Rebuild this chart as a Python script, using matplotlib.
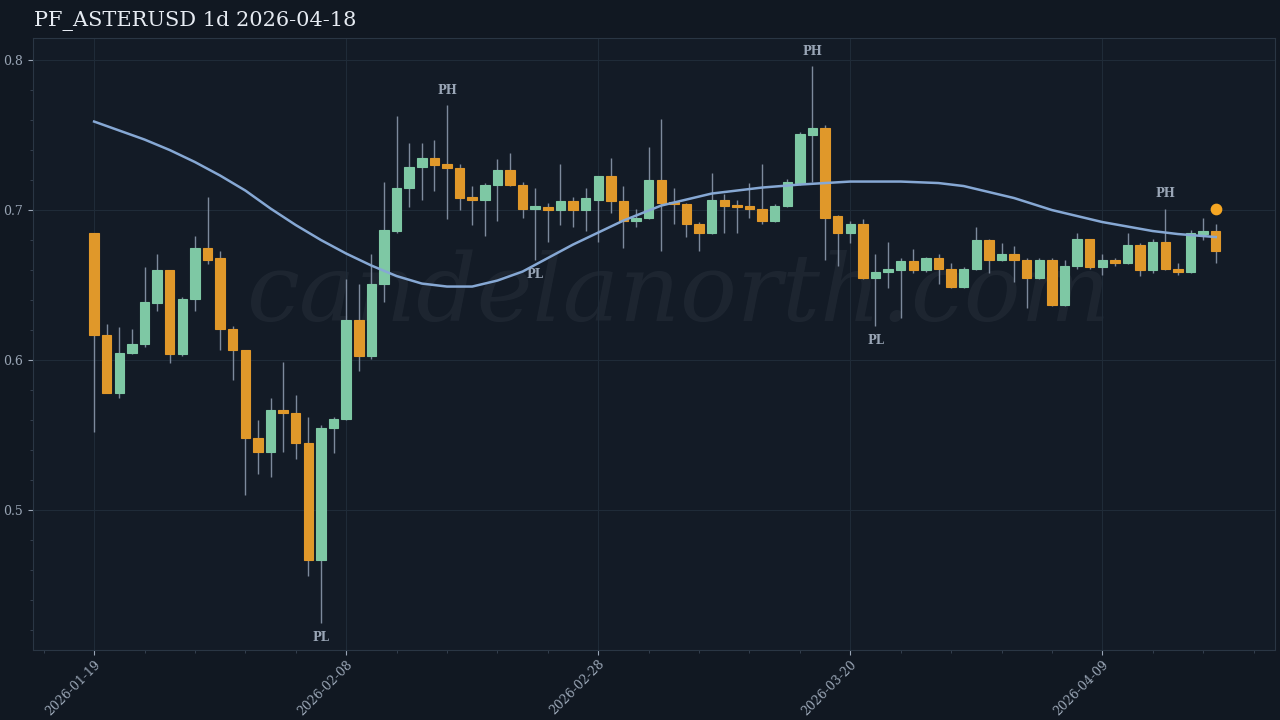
import numpy as np
import matplotlib
matplotlib.use("Agg")
import matplotlib.pyplot as plt
import pandas as pd

# daily candles, 2026-01-19 .. 2026-04-18
start = "2026-01-19"
opens = [0.685, 0.617, 0.578, 0.605, 0.611, 0.638, 0.660, 0.604, 0.641, 0.675,
         0.668, 0.621, 0.607, 0.548, 0.539, 0.567, 0.565, 0.545, 0.467, 0.555,
         0.561, 0.627, 0.603, 0.651, 0.686, 0.715, 0.729, 0.735, 0.731, 0.728,
         0.708, 0.707, 0.717, 0.727, 0.717, 0.701, 0.702, 0.700, 0.706, 0.700,
         0.707, 0.723, 0.706, 0.693, 0.695, 0.720, 0.705, 0.704, 0.691, 0.685,
         0.707, 0.703, 0.703, 0.701, 0.693, 0.703, 0.718, 0.750, 0.755, 0.696,
         0.685, 0.691, 0.655, 0.659, 0.660, 0.666, 0.660, 0.668, 0.661, 0.649,
         0.661, 0.680, 0.667, 0.671, 0.667, 0.655, 0.667, 0.637, 0.663, 0.681,
         0.662, 0.667, 0.665, 0.677, 0.660, 0.679, 0.661, 0.659, 0.684, 0.686]
highs = [0.685, 0.624, 0.622, 0.621, 0.662, 0.671, 0.660, 0.642, 0.683, 0.709,
         0.673, 0.623, 0.607, 0.560, 0.575, 0.599, 0.577, 0.562, 0.557, 0.562,
         0.654, 0.651, 0.671, 0.719, 0.763, 0.745, 0.745, 0.747, 0.770, 0.731,
         0.716, 0.718, 0.734, 0.738, 0.719, 0.715, 0.705, 0.731, 0.709, 0.715,
         0.723, 0.735, 0.716, 0.701, 0.742, 0.761, 0.715, 0.705, 0.692, 0.725,
         0.711, 0.707, 0.718, 0.731, 0.704, 0.721, 0.752, 0.796, 0.757, 0.697,
         0.693, 0.694, 0.671, 0.679, 0.668, 0.674, 0.669, 0.671, 0.665, 0.662,
         0.689, 0.681, 0.678, 0.676, 0.668, 0.668, 0.668, 0.667, 0.685, 0.681,
         0.671, 0.668, 0.685, 0.678, 0.681, 0.701, 0.665, 0.687, 0.695, 0.691]
lows = [0.552, 0.578, 0.575, 0.604, 0.609, 0.633, 0.598, 0.603, 0.633, 0.664,
        0.607, 0.587, 0.510, 0.524, 0.522, 0.539, 0.534, 0.456, 0.425, 0.538,
        0.560, 0.593, 0.601, 0.639, 0.685, 0.702, 0.707, 0.713, 0.694, 0.700,
        0.690, 0.683, 0.693, 0.716, 0.695, 0.667, 0.679, 0.690, 0.689, 0.686,
        0.679, 0.698, 0.675, 0.689, 0.694, 0.673, 0.691, 0.682, 0.673, 0.684,
        0.685, 0.685, 0.695, 0.691, 0.692, 0.702, 0.717, 0.719, 0.667, 0.663,
        0.678, 0.654, 0.623, 0.648, 0.628, 0.658, 0.659, 0.651, 0.648, 0.648,
        0.660, 0.658, 0.666, 0.652, 0.635, 0.654, 0.636, 0.636, 0.661, 0.661,
        0.657, 0.663, 0.664, 0.656, 0.658, 0.660, 0.657, 0.658, 0.680, 0.665]
closes = [0.617, 0.578, 0.605, 0.611, 0.639, 0.660, 0.604, 0.641, 0.675, 0.667,
          0.621, 0.607, 0.548, 0.539, 0.567, 0.565, 0.545, 0.467, 0.555, 0.561,
          0.627, 0.603, 0.651, 0.687, 0.715, 0.729, 0.735, 0.730, 0.728, 0.708,
          0.707, 0.717, 0.727, 0.717, 0.701, 0.702, 0.700, 0.706, 0.700, 0.708,
          0.723, 0.706, 0.693, 0.695, 0.720, 0.705, 0.704, 0.691, 0.685, 0.707,
          0.703, 0.702, 0.701, 0.693, 0.703, 0.719, 0.751, 0.755, 0.695, 0.685,
          0.691, 0.655, 0.659, 0.660, 0.666, 0.660, 0.668, 0.661, 0.649, 0.661,
          0.680, 0.667, 0.671, 0.667, 0.655, 0.667, 0.637, 0.663, 0.681, 0.662,
          0.667, 0.665, 0.677, 0.660, 0.679, 0.661, 0.659, 0.685, 0.686, 0.673]

# moving average line (read at anchor candles)
ma_idx = [0, 4, 6, 8, 10, 12, 14, 16, 18, 20, 22, 24, 26, 28, 30, 32, 34, 36, 38,
          40, 42, 45, 47, 49, 53, 56, 60, 64, 67, 69, 71, 73, 76, 78, 80, 82, 84, 86, 89]
ma_val = [0.759, 0.747, 0.740, 0.732, 0.723, 0.713, 0.701, 0.690, 0.680, 0.671,
          0.663, 0.656, 0.651, 0.649, 0.649, 0.653, 0.659, 0.668, 0.677, 0.685,
          0.693, 0.703, 0.707, 0.711, 0.715, 0.717, 0.719, 0.719, 0.718, 0.716,
          0.712, 0.708, 0.700, 0.696, 0.692, 0.689, 0.686, 0.684, 0.682]

# pivot labels: (candle index, kind)
pivots = [(28, "PH"), (18, "PL"), (35, "PL"), (57, "PH"), (62, "PL"), (85, "PH")]
last_marker = 0.701

tick_idx = [0, 20, 40, 60, 80]

dates = pd.date_range(start, periods=len(opens), freq="D")
x = np.arange(len(opens))

BG = "#111822"
AX_BG = "#131b26"
UP = "#7ec8a4"
DOWN = "#e0982a"
WICK = "#7d8a9c"
TXT = "#9aa6b6"

plt.rcParams['font.family'] = ['DejaVu Serif']
fig = plt.figure(figsize=(12.8, 7.2), dpi=100, facecolor=BG)
ax = fig.add_axes([33 / 1280, 70 / 720, 1242 / 1280, 612 / 720])
ax.set_facecolor(AX_BG)

for i in x:
    o, h, l, c = opens[i], highs[i], lows[i], closes[i]
    col = UP if c >= o else DOWN
    ax.vlines(i, l, h, color=WICK, linewidth=1, zorder=2)
    bottom = min(o, c)
    height = max(abs(c - o), 0.0015)
    ax.bar(i, height, bottom=bottom, width=0.75, color=col, edgecolor=col,
           linewidth=0.8, zorder=3)

ax.plot(ma_idx, ma_val, color="#86a8d4", linewidth=1.8, zorder=4)
ax.scatter([x[-1]], [last_marker], s=55, color="#f5a623", zorder=5)

for i, kind in pivots:
    if kind == "PH":
        ax.annotate(kind, (i, highs[i]), xytext=(0, 6), textcoords="offset points",
                    ha="center", va="bottom", color=TXT, fontsize=8.5, fontweight="bold")
    else:
        ax.annotate(kind, (i, lows[i]), xytext=(0, -6), textcoords="offset points",
                    ha="center", va="top", color=TXT, fontsize=8.5, fontweight="bold")

ax.text(0.52, 0.58, "candelanorth.com", transform=ax.transAxes, ha="center", va="center",
        fontsize=68, style="italic", color="#c8d2e0", alpha=0.06, zorder=1)

ax.set_xlim(-4.85, 93.7)
ax.set_ylim(0.4067, 0.8147)
ax.set_yticks([0.5, 0.6, 0.7, 0.8])
ax.set_yticklabels(["0.5", "0.6", "0.7", "0.8"])
ax.set_yticks(np.arange(0.42, 0.81, 0.02), minor=True)
ax.set_xticks(tick_idx)
ax.set_xticklabels([dates[i].strftime("%Y-%m-%d") for i in tick_idx], rotation=45,
                   ha="right", rotation_mode="anchor")
ax.set_xticks(np.arange(-4, 94, 4), minor=True)
ax.tick_params(colors=TXT, labelsize=9)
ax.tick_params(axis="x", pad=2)
ax.tick_params(which="minor", colors="#3a4656", length=2)
ax.grid(True, color="#1f2b38", linewidth=0.8)
for s in ax.spines.values():
    s.set_color("#2a3644")

fig.text(34 / 1280, 1 - 21 / 720, "PF_ASTERUSD 1d 2026-04-18", color="#e6ebf2",
         fontsize=15, va="center", ha="left")

fig.savefig("out.png", dpi=100, facecolor=BG)
